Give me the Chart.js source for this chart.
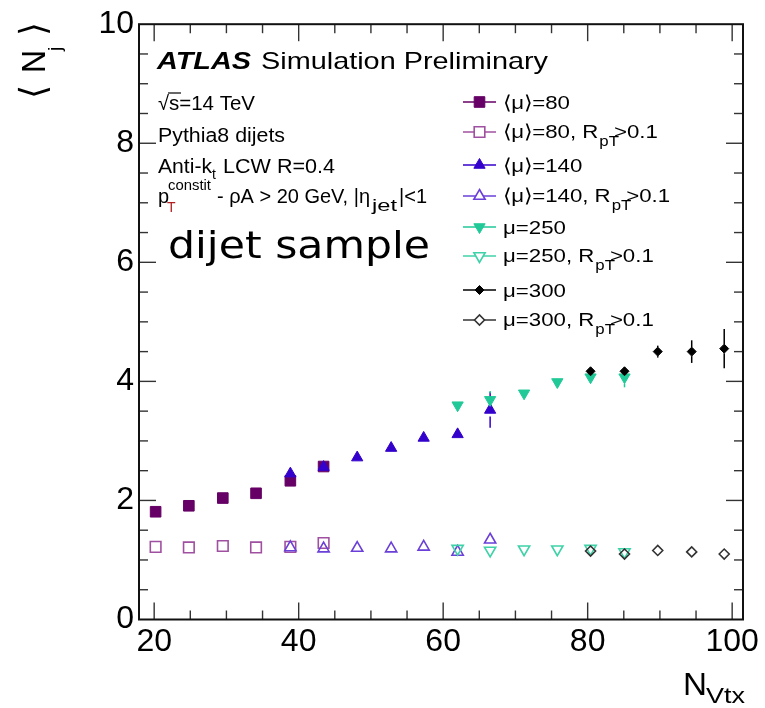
<!DOCTYPE html>
<html>
<head>
<meta charset="utf-8">
<script src="https://cdn.jsdelivr.net/npm/chart.js@4.4.1/dist/chart.umd.min.js"></script>
<style>
  html, body { margin: 0; padding: 0; background: #fff; }
  canvas { display: block; }
</style>
</head>
<body>
<canvas id="nj" width="765" height="708"></canvas>
<script>
// bin centres in N_Vtx
var x80 = [20.2, 24.8, 29.5, 34.1, 38.85, 43.45];
var x140 = [38.85, 43.45, 48.1, 52.8, 57.3, 62.0, 66.5];
var x250 = [62.0, 66.5, 71.2, 75.8, 80.4, 85.1];
var x300 = [80.4, 85.1, 89.7, 94.4, 98.9];

// <N_j>, all jets and with R_pT > 0.1
var y80 = [1.81, 1.91, 2.04, 2.12, 2.33, 2.57];
var e80 = [0.03, 0.03, 0.03, 0.04, 0.05, 0.12];
var y80r = [1.22, 1.21, 1.235, 1.21, 1.22, 1.285];
var e80r = [0.02, 0.02, 0.02, 0.02, 0.02, 0.03];

var y140 = [2.45, 2.56, 2.72, 2.88, 3.05, 3.11, 3.52];
var e140 = [0.05, 0.05, 0.05, 0.05, 0.05, 0.08, 0.30];
var y140r = [1.21, 1.19, 1.20, 1.19, 1.22, 1.135, 1.34];
var e140r = [0.02, 0.02, 0.02, 0.02, 0.02, 0.03, 0.06];

var y250 = [3.60, 3.69, 3.80, 3.99, 4.07, 4.07];
var e250 = [0.05, 0.15, 0.05, 0.05, 0.08, 0.17];
var y250r = [1.19, 1.16, 1.18, 1.18, 1.19, 1.135];
var e250r = [0.02, 0.03, 0.02, 0.02, 0.03, 0.03];

var y300 = [4.17, 4.17, 4.50, 4.50, 4.55];
var e300 = [0.06, 0.06, 0.10, 0.19, 0.33];
var y300r = [1.15, 1.10, 1.16, 1.135, 1.10];
var e300r = [0.02, 0.02, 0.03, 0.03, 0.04];

var labels = ['⟨μ⟩=80', '⟨μ⟩=80, R_pT>0.1', '⟨μ⟩=140', '⟨μ⟩=140, R_pT>0.1',
              'μ=250', 'μ=250, R_pT>0.1', 'μ=300', 'μ=300, R_pT>0.1'];

var xTicks = [20, 40, 60, 80, 100];
var yTicks = [0, 2, 4, 6, 8, 10];

Chart.defaults.font.family = '"Liberation Sans", Arial, sans-serif';

function pts(xs, ys) {
  return xs.map(function (x, i) { return { x: x, y: ys[i] }; });
}

// one scatter series; open markers get no fill
function series(label, xs, ys, errs, color, style, radius, open, rot) {
  return {
    label: label,
    data: pts(xs, ys),
    errs: errs,
    showLine: false,
    pointStyle: style,
    rotation: rot || 0,
    pointRadius: radius,
    pointBorderWidth: open ? 1.6 : 1,
    borderColor: color,
    backgroundColor: open ? 'rgba(0,0,0,0)' : color,
    open: !!open
  };
}

var datasets = [
  series(labels[0], x80, y80, e80, '#660066', 'rect', 7.5),
  series(labels[1], x80, y80r, e80r, '#a050a0', 'rect', 7.5, true),
  series(labels[2], x140, y140, e140, '#3300cc', 'triangle', 6.5),
  series(labels[3], x140, y140r, e140r, '#6a40d8', 'triangle', 6.5, true),
  series(labels[4], x250, y250, e250, '#20c997', 'triangle', 6.5, false, 180),
  series(labels[5], x250, y250r, e250r, '#3fd2a8', 'triangle', 6.5, true, 180),
  series(labels[6], x300, y300, e300, '#000000', 'rectRot', 4.5),
  series(labels[7], x300, y300r, e300r, '#333333', 'rectRot', 5, true)
];
// later series are drawn on top, like the original
datasets.forEach(function (d, i) { d.order = datasets.length - i; });

function put(ctx, s, x, y, size, o) {
  o = o || {};
  ctx.save();
  ctx.font = (o.style || '') + ' ' + size + 'px ' + (o.family || '"Liberation Sans", Arial, sans-serif');
  ctx.fillStyle = o.color || '#000';
  ctx.textAlign = 'left';
  ctx.textBaseline = 'alphabetic';
  var w = ctx.measureText(s).width;
  var hs = o.w ? o.w / w : (o.hs || 1);
  ctx.translate(x, y);
  ctx.scale(hs, 1);
  ctx.fillText(s, 0, 0);
  ctx.restore();
  return x + w * hs;
}

function seg(ctx, x1, y1, x2, y2) {
  ctx.beginPath(); ctx.moveTo(x1, y1); ctx.lineTo(x2, y2); ctx.stroke();
}

// vertical error bars, only the part sticking out of the marker (ROOT style)
var errorBars = {
  id: 'errorBars',
  beforeDatasetsDraw: function (chart) {
    var ctx = chart.ctx, xs = chart.scales.x, ys = chart.scales.y;
    ctx.save();
    ctx.lineWidth = 1.5;
    chart.data.datasets.forEach(function (d) {
      ctx.strokeStyle = d.borderColor;
      var r = d.pointRadius;
      d.data.forEach(function (p, i) {
        var px = xs.getPixelForValue(p.x), py = ys.getPixelForValue(p.y);
        var lo = ys.getPixelForValue(p.y - d.errs[i]), hi = ys.getPixelForValue(p.y + d.errs[i]);
        if (lo > py + r) seg(ctx, px, py + r, px, lo);
        if (hi < py - r) seg(ctx, px, py - r, px, hi);
      });
    });
    ctx.restore();
  }
};

var frame = {
  id: 'frame',
  afterDraw: function (chart) {
    var ctx = chart.ctx, a = chart.chartArea, xs = chart.scales.x, ys = chart.scales.y;
    var v, p, len;
    ctx.save();
    ctx.strokeStyle = '#333';
    ctx.lineWidth = 1.4;
    for (v = 20; v <= 100; v += 5) {
      p = xs.getPixelForValue(v);
      len = v % 20 === 0 ? 17 : 9;
      seg(ctx, p, a.bottom, p, a.bottom - len);
      seg(ctx, p, a.top, p, a.top + len);
    }
    for (v = 0.5; v < 10; v += 0.5) {
      p = ys.getPixelForValue(v);
      len = v % 2 === 0 ? 17 : 9;
      seg(ctx, a.left, p, a.left + len, p);
      seg(ctx, a.right, p, a.right - len, p);
    }
    ctx.strokeStyle = '#111';
    ctx.lineWidth = 2;
    ctx.strokeRect(a.left, a.top, a.right - a.left, a.bottom - a.top);
    ctx.restore();
  }
};

var annotate = {
  id: 'annotate',
  afterDraw: function (chart) {
    var ctx = chart.ctx, x;
    // axis titles
    ctx.save();
    ctx.translate(45, 99);
    ctx.rotate(-Math.PI / 2);
    put(ctx, '⟨', 0, 0, 36, { family: '"DejaVu Sans"' });
    put(ctx, 'N', 26, 0, 34, { w: 23 });
    put(ctx, 'j', 48, 16, 19);
    put(ctx, '⟩', 63, 0, 36, { family: '"DejaVu Sans"' });
    ctx.restore();
    put(ctx, 'N', 683, 695, 32, { w: 24 });
    put(ctx, 'Vtx', 706, 703, 22, { w: 39 });

    // ATLAS label block
    put(ctx, 'ATLAS', 157, 69, 24, { style: 'italic bold', w: 94 });
    put(ctx, 'Simulation Preliminary', 261, 69, 24, { w: 287 });
    x = put(ctx, '√', 158, 110, 20);
    ctx.save(); ctx.strokeStyle = '#000'; ctx.lineWidth = 1.2;
    seg(ctx, x - 1, 93, x + 12, 93); ctx.restore();
    put(ctx, 's=14 TeV', x, 110, 20, { w: 86 });
    put(ctx, 'Pythia8 dijets', 158, 142, 20, { w: 127 });
    put(ctx, 'Anti-k', 158, 173, 20, { w: 54 });
    put(ctx, 't', 212, 179, 14);
    put(ctx, 'LCW R=0.4', 223, 173, 20, { w: 112 });
    put(ctx, 'p', 158, 203, 20);
    put(ctx, 'constit', 168, 190, 14, { w: 43 });
    put(ctx, 'T', 167, 212, 14, { color: '#b02020' });
    put(ctx, '- ρA > 20 GeV, |η', 217, 203, 20, { w: 153 });
    put(ctx, 'jet', 372, 211, 17, { w: 25 });
    put(ctx, '|<1', 399, 203, 20, { w: 28 });
    put(ctx, 'dijet sample', 168, 258, 38, { family: '"DejaVu Sans"', w: 262 });

    // legend: line + marker + text for each series
    var my = [102, 132, 165, 196, 227, 256, 290, 320];
    var draw = Chart.helpers && Chart.helpers.drawPoint;
    chart.data.datasets.forEach(function (d, i) {
      var y = my[i];
      ctx.save();
      ctx.strokeStyle = d.borderColor;
      ctx.lineWidth = 1.5;
      seg(ctx, 463, y, 496, y);
      ctx.fillStyle = d.open ? '#fff' : d.backgroundColor;
      ctx.lineWidth = d.pointBorderWidth;
      if (draw) {
        draw(ctx, { pointStyle: d.pointStyle, rotation: d.rotation, radius: d.pointRadius, borderWidth: d.pointBorderWidth }, 479.5, y);
      }
      ctx.restore();
      var parts = d.label.split('_pT');
      if (parts.length === 1) {
        put(ctx, parts[0], 503, y + 7, 19, { hs: 1.17 });
      } else {
        var xe = put(ctx, parts[0], 503, y + 5.5, 19, { hs: 1.17 });
        var xs2 = put(ctx, 'pT', xe + 1, y + 14, 14, { hs: 1.2 });
        put(ctx, parts[1], xs2 - 5, y + 5.5, 19, { hs: 1.17 });
      }
    });
  }
};

new Chart(document.getElementById('nj'), {
  type: 'scatter',
  data: { datasets: datasets },
  options: {
    responsive: false,
    animation: false,
    devicePixelRatio: 1,
    layout: { padding: { left: 0, right: 22, top: 23, bottom: 0 } },
    plugins: { legend: { display: false }, tooltip: { enabled: false } },
    scales: {
      x: {
        type: 'linear',
        min: 17.9,
        max: 101.5,
        grid: { display: false, drawTicks: false },
        border: { display: false },
        afterBuildTicks: function (s) { s.ticks = xTicks.map(function (v) { return { value: v }; }); },
        afterFit: function (s) { s.height = 88.5; },
        ticks: { padding: 3, color: '#000', font: { size: 32 }, maxRotation: 0 }
      },
      y: {
        type: 'linear',
        min: 0,
        max: 10,
        grid: { display: false, drawTicks: false },
        border: { display: false },
        afterBuildTicks: function (s) { s.ticks = yTicks.map(function (v) { return { value: v }; }); },
        afterFit: function (s) { s.width = 139; },
        ticks: { padding: 5, color: '#000', font: { size: 32 } }
      }
    }
  },
  plugins: [errorBars, frame, annotate]
});
</script>
</body>
</html>
